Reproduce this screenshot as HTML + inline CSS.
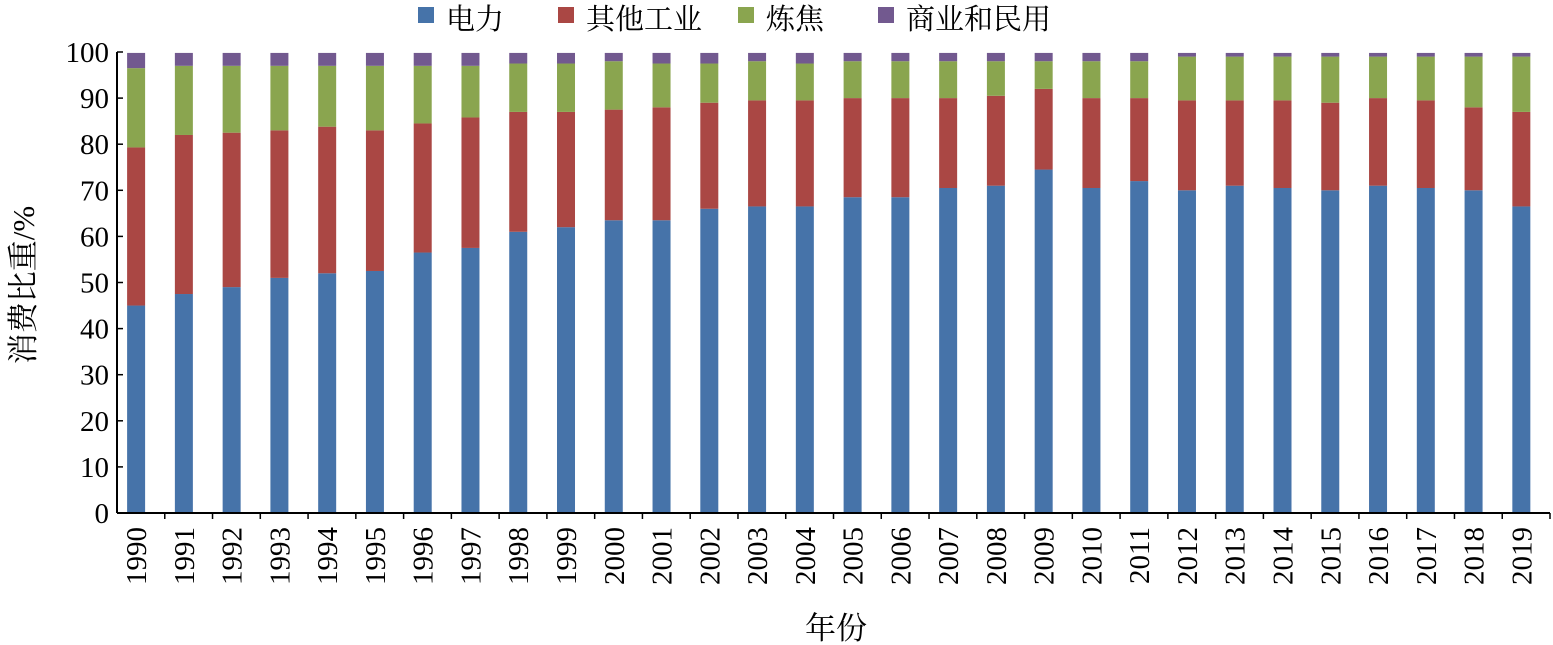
<!DOCTYPE html>
<html><head><meta charset="utf-8"><style>
body{margin:0;background:#fff;}
svg{display:block;font-family:"Liberation Serif","Noto Serif CJK SC",serif;}
</style></head><body>
<svg id="chart" width="1553" height="645">
<g id="legend"></g>
<g id="grid"></g>
<text x="836" y="639" font-size="31" text-anchor="middle">年份</text>
<text transform="translate(34,285) rotate(-90)" font-size="31" text-anchor="middle">消费比重/%</text>
</svg>
<script>
const years=[1990,1991,1992,1993,1994,1995,1996,1997,1998,1999,2000,2001,2002,2003,2004,2005,2006,2007,2008,2009,2010,2011,2012,2013,2014,2015,2016,2017,2018,2019];
const power=[45,47.5,49,51,52,52.5,56.5,57.5,61,62,63.5,63.5,66,66.5,66.5,68.5,68.5,70.5,71,74.5,70.5,72,70,71,70.5,70,71,70.5,70,66.5];
const industry=[34.3,34.5,33.5,32,31.8,30.5,28,28.3,26,25,24,24.5,23,23,23,21.5,21.5,19.5,19.5,17.5,19.5,18,19.5,18.5,19,19,19,19,18,20.5];
const coking=[17.2,15,14.5,14,13.2,14,12.5,11.2,10.5,10.5,10.5,9.5,8.5,8.5,8,8,8,8,7.5,6,8,8,9.5,9.5,9.5,10,9,9.5,11,12];
const commercial=[3.3,2.8,2.8,2.8,2.8,2.8,2.8,2.8,2.3,2.3,1.8,2.3,2.3,1.8,2.3,1.8,1.8,1.8,1.8,1.8,1.8,1.8,0.8,0.8,0.8,0.8,0.8,0.8,0.8,0.8];
const yTicks=[0,10,20,30,40,50,60,70,80,90,100];
const seriesNames=["电力","其他工业","炼焦","商业和民用"];
const colors=["#4673a9","#aa4744","#8aa54f","#72598f"];
const NS="http://www.w3.org/2000/svg";
const x0=117,x1=1550,yBase=513,yTop=52;
const ys=v=>yBase-(v/100)*(yBase-yTop);
const step=(x1-x0)/years.length;
const xc=i=>x0+step*(i+0.4);
const bw=18;
const g=document.getElementById('grid');
function mk(tag,attrs,parent){const e=document.createElementNS(NS,tag);for(const k in attrs)e.setAttribute(k,attrs[k]);parent.appendChild(e);return e;}
const series=[power,industry,coking,commercial];
years.forEach((yr,i)=>{
  let acc=0;
  series.forEach((s,k)=>{
    const r=mk('rect',{x:xc(i)-bw/2,y:ys(acc+s[i]),width:bw,height:ys(acc)-ys(acc+s[i]),fill:colors[k]},g);
    
    
    acc+=s[i];
  });
  const t=mk('text',{transform:`translate(${xc(i)+10},527) rotate(-90)`,'font-size':29,'text-anchor':'end'},g);
  t.textContent=yr;
  
  
  const tk=mk('line',{x1:x0+step*(i+1),x2:x0+step*(i+1),y1:yBase,y2:yBase+6,stroke:'#000','stroke-width':1.5},g);
  
  
});
const ax=mk('line',{x1:x0,x2:x0,y1:yTop,y2:yBase,stroke:'#000','stroke-width':2},g);


const axx=mk('line',{x1:x0,x2:x1,y1:yBase,y2:yBase,stroke:'#000','stroke-width':2},g);


yTicks.forEach(v=>{
  const l=mk('line',{x1:x0,x2:x0+6,y1:ys(v),y2:ys(v),stroke:'#000','stroke-width':1.5},g);
  
  
  const t=mk('text',{x:x0-8,y:ys(v)+10,'font-size':29,'text-anchor':'end'},g);
  t.textContent=v;
  
  
});
const lg=document.getElementById('legend');
const lx=[418,558,738,878];
seriesNames.forEach((n,k)=>{
  const r=mk('rect',{x:lx[k],y:7,width:16,height:16,fill:colors[k]},lg);
  
  
  const t=mk('text',{x:lx[k]+28,y:29,'font-size':29},lg);
  t.textContent=n;
  
  
});
</script>
</body></html>
